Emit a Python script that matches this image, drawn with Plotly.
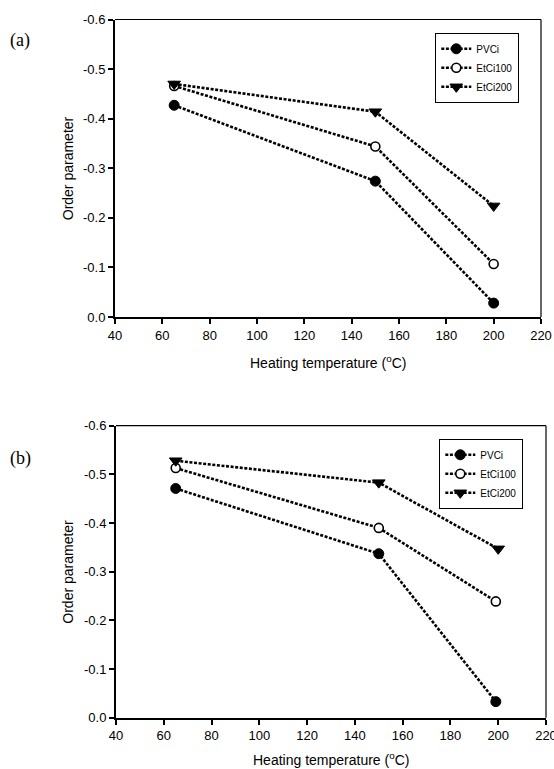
import plotly.graph_objects as go

# ---------------- data ----------------
series_names = ["PVCi", "EtCi100", "EtCi200"]

# panel (a)
a_x_pvci = [65, 150, 200]
a_y_pvci = [-0.427, -0.274, -0.028]
a_x_et100 = [65, 150, 200]
a_y_et100 = [-0.466, -0.344, -0.107]
a_x_et200 = [65, 150, 200]
a_y_et200 = [-0.470, -0.414, -0.224]

# panel (b)
b_x_pvci = [65, 150, 199]
b_y_pvci = [-0.471, -0.337, -0.033]
b_x_et100 = [65, 150, 199]
b_y_et100 = [-0.513, -0.390, -0.239]
b_x_et200 = [65, 150, 200]
b_y_et200 = [-0.528, -0.483, -0.347]

x_tickvals = [40, 60, 80, 100, 120, 140, 160, 180, 200, 220]
x_ticktext = ["40", "60", "80", "100", "120", "140", "160", "180", "200", "220"]
y_tickvals = [0.0, -0.1, -0.2, -0.3, -0.4, -0.5, -0.6]
y_ticktext = ["0.0", "-0.1", "-0.2", "-0.3", "-0.4", "-0.5", "-0.6"]

panel_labels = ["(a)", "(b)"]
x_title = "Heating temperature (<sup>o</sup>C)"
y_title = "Order parameter"

# ---------------- style ----------------
W, H = 554, 769
FONT = "Liberation Sans, Arial, sans-serif"
line_style = dict(color="black", width=2.6, dash="3px,1.6px")
markers = [
    dict(symbol="circle", size=10, color="black", line=dict(color="black", width=1)),
    dict(symbol="circle", size=9, color="white", line=dict(color="black", width=1.6)),
    dict(symbol="triangle-down", size=11, color="black", line=dict(color="black", width=1)),
]

fig = go.Figure()

panels = [
    ("x", "y", "legend",
     [(a_x_pvci, a_y_pvci), (a_x_et100, a_y_et100), (a_x_et200, a_y_et200)]),
    ("x2", "y2", "legend2",
     [(b_x_pvci, b_y_pvci), (b_x_et100, b_y_et100), (b_x_et200, b_y_et200)]),
]
for xa, ya, lg, data in panels:
    for name, (xs, ys), mk in zip(series_names, data, markers):
        fig.add_trace(go.Scatter(
            x=xs, y=ys, name=name, mode="lines+markers",
            xaxis=xa, yaxis=ya, legend=lg,
            line=line_style, marker=mk, cliponaxis=False,
        ))

def px_x(p):
    return p / W

def px_y(p):
    return 1 - p / H

dom = {
    "a": dict(x=[px_x(115), px_x(541)], y=[px_y(317), px_y(19.5)]),
    "b": dict(x=[px_x(116), px_x(546)], y=[px_y(717.7), px_y(425.7)]),
}

def xaxis_cfg(d, anchor):
    return dict(
        domain=d, anchor=anchor, range=[40, 220], automargin=False,
        tickmode="array", tickvals=x_tickvals, ticktext=x_ticktext,
        ticks="outside", ticklen=5, tickwidth=1.6, tickcolor="black",
        showline=True, linewidth=2, linecolor="black", mirror=False,
        showgrid=False, zeroline=False, ticklabeloverflow="allow",
        tickfont=dict(family=FONT, size=13, color="black"),
    )

def yaxis_cfg(d, anchor):
    return dict(
        domain=d, anchor=anchor, range=[0, -0.6], automargin=False,
        tickmode="array", tickvals=y_tickvals, ticktext=y_ticktext,
        ticks="outside", ticklen=5, tickwidth=1.6, tickcolor="black",
        showline=True, linewidth=2, linecolor="black", mirror=False,
        showgrid=False, zeroline=False, ticklabeloverflow="allow",
        tickfont=dict(family=FONT, size=13, color="black"),
    )

legend_common = dict(
    bgcolor="white", bordercolor="black", borderwidth=1.3,
    font=dict(family=FONT, size=10, color="black"),
    xanchor="left", yanchor="top", itemwidth=30,
    tracegroupgap=0,
)

fig.update_layout(
    template="none",
    width=W, height=H,
    margin=dict(l=0, r=0, t=0, b=0, pad=0),
    paper_bgcolor="white", plot_bgcolor="white",
    font=dict(family=FONT, color="black"),
    xaxis=xaxis_cfg(dom["a"]["x"], "y"),
    yaxis=yaxis_cfg(dom["a"]["y"], "x"),
    xaxis2=xaxis_cfg(dom["b"]["x"], "y2"),
    yaxis2=yaxis_cfg(dom["b"]["y"], "x2"),
    legend=dict(x=px_x(435), y=px_y(33), **legend_common),
    legend2=dict(x=px_x(439), y=px_y(439), **legend_common),
    showlegend=True,
)

for xr, yr in [("x domain", "y domain"), ("x2 domain", "y2 domain")]:
    fig.add_shape(type="line", xref=xr, yref=yr, x0=0, x1=1, y0=1, y1=1,
                  line=dict(color="black", width=1.2))
    fig.add_shape(type="line", xref=xr, yref=yr, x0=1, x1=1, y0=0, y1=1,
                  line=dict(color="black", width=1.2))

ann = []
for key, lab, lab_y, xt_y in [("a", panel_labels[0], 40, 362), ("b", panel_labels[1], 458, 759)]:
    d = dom[key]
    ann.append(dict(text=x_title, xref="paper", yref="paper",
                    x=(d["x"][0] + d["x"][1]) / 2, y=px_y(xt_y),
                    xanchor="center", yanchor="middle", showarrow=False,
                    font=dict(family=FONT, size=14, color="black")))
    ann.append(dict(text=y_title, xref="paper", yref="paper",
                    x=px_x(68), y=(d["y"][0] + d["y"][1]) / 2,
                    xanchor="center", yanchor="middle", showarrow=False, textangle=-90,
                    font=dict(family=FONT, size=14, color="black")))
    ann.append(dict(text=lab, xref="paper", yref="paper",
                    x=px_x(20), y=px_y(lab_y),
                    xanchor="center", yanchor="middle", showarrow=False,
                    font=dict(family="Liberation Serif, Times New Roman, serif", size=18, color="black")))
fig.update_layout(annotations=ann)

fig.write_html(
    "out.html",
    config={"displayModeBar": False},
    post_script="document.body.style.margin='0px';document.body.style.overflow='hidden';",
)
